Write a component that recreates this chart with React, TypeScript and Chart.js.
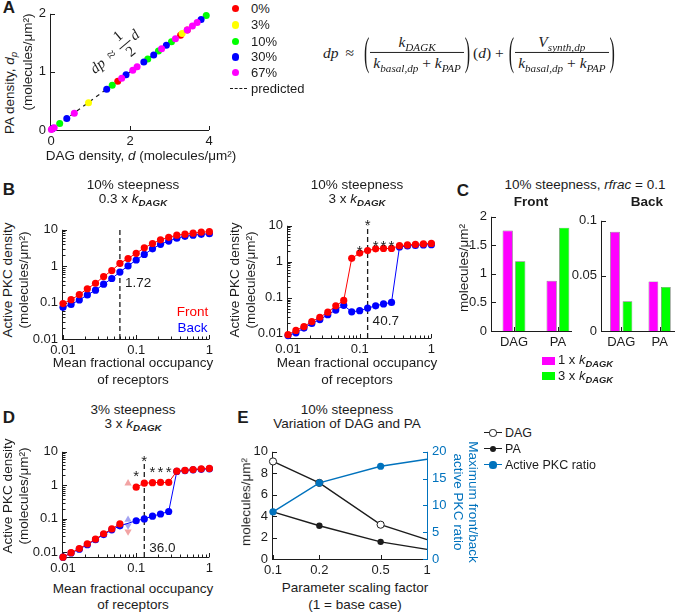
import React, { useEffect, useRef } from 'react';
import { Chart, registerables } from 'chart.js';

Chart.register(...registerables);

const SANS = "'Liberation Sans', Arial, Helvetica, sans-serif";
const SERIF = "'Liberation Serif', 'Times New Roman', serif";
const INK = '#1c1c1c';
const RED = '#ff0000';
const BLUE = '#0000ff';
const MAGENTA = '#ff00ff';
const GREEN = '#00ff00';
const YELLOW = '#ffff00';
const EBLUE = '#0072bd';
const LIGHT_RED = '#f2a3a3';
const LIGHT_BLUE = '#a3a3f2';

// ===== Panel A : PA density vs DAG density =====
const aSeriesNames = ['0%', '3%', '10%', '30%', '67%'];
const aD0 = [0.03, 1.69, 3.28, 3.45];
const aP0 = [0.02, 0.84, 1.63, 1.72];
const aD3 = [0.95, 3.32];
const aP3 = [0.47, 1.66];
const aD10 = [0.22, 1.55, 2.45, 2.72, 3.05, 3.93];
const aP10 = [0.11, 0.77, 1.22, 1.36, 1.52, 1.97];
const aD30 = [0.05, 0.4, 1.41, 1.9, 2.35, 2.6, 2.92, 3.8];
const aP30 = [0.03, 0.2, 0.7, 0.95, 1.17, 1.29, 1.46, 1.9];
const aD67 = [0.01, 0.08, 0.59, 1.79, 2.07, 2.18, 2.8, 3.15, 3.45, 3.58, 3.7];
const aP67 = [0.01, 0.04, 0.29, 0.89, 1.03, 1.09, 1.4, 1.57, 1.72, 1.79, 1.85];
const aPredD = [0, 4];
const aPredP = [0, 2];
const aXTicks = [0, 2, 4];
const aYTicks = [0, 1, 2];

// ===== Panels B / D : active PKC vs mean fractional occupancy =====
const occ = [0.01, 0.0129, 0.0167, 0.0215, 0.0278, 0.0359, 0.0464, 0.0599, 0.0774, 0.1, 0.129, 0.167, 0.215, 0.278, 0.359, 0.464, 0.599, 0.774, 1];
const occTicks = [0.01, 0.1, 1];
const pkcTicks = [0.01, 0.1, 1, 10];

const bLeftFront = [0.094, 0.12, 0.166, 0.24, 0.34, 0.52, 0.76, 1.19, 1.63, 2.26, 3.2, 4.2, 5.3, 6.2, 7.1, 7.6, 8.1, 8.6, 8.9];
const bLeftBack = [0.074, 0.089, 0.118, 0.162, 0.22, 0.32, 0.46, 0.69, 1.02, 1.48, 2.1, 3.0, 4.0, 4.9, 5.9, 6.6, 7.1, 7.5, 7.8];
const bLeftCut = 0.0599;
const bLeftRatio = { x: 0.0599, y: 0.35, text: '1.72' };

const bRightFront = [0.0095, 0.0125, 0.016, 0.022, 0.029, 0.04, 0.06, 0.085, 1.25, 1.75, 2.05, 2.3, 2.35, 2.35, 2.8, 2.95, 3.05, 3.15, 3.25];
const bRightBack = [0.009, 0.0107, 0.0145, 0.0195, 0.025, 0.034, 0.046, 0.062, 0.041, 0.044, 0.052, 0.06, 0.068, 0.075, 2.6, 2.75, 2.85, 2.95, 3.0];
const bRightCut = 0.129;
const bRightRatio = { x: 0.129, y: 0.023, text: '40.7' };
const bRightStarX = [0.1, 0.129, 0.167, 0.215, 0.278];
const bRightStarY = [2.6, 13.5, 3.4, 3.4, 3.4];

const dFront = [0.0072, 0.0098, 0.013, 0.018, 0.025, 0.036, 0.05, 0.071, null, 0.88, 1.16, 1.2, 1.22, 1.22, 2.65, 2.8, 2.95, 3.1, 3.2];
const dBack = [0.0072, 0.0096, 0.0125, 0.017, 0.024, 0.034, 0.047, 0.062, null, 0.088, 0.1, 0.12, 0.14, 0.166, 2.6, 2.75, 2.9, 3.0, 3.1];
const dTriX = 0.0774;
const dTriFrontUp = 1.15;
const dTriBackUp = 0.095;
const dTriBackDown = 0.063;
const dTriFrontDown = 0.042;
const dCut = 0.129;
const dCutTop = 5;
const dRatio = { x: 0.129, y: 0.013, text: '36.0' };
const dStarX = [0.1, 0.129, 0.167, 0.215, 0.278];
const dStarY = [2.4, 7.0, 3.3, 3.3, 3.3];

// ===== Panel C : bars =====
const cCats = ['DAG', 'PA'];
const cFront1x = [1.76, 0.88];
const cFront3x = [1.22, 1.81];
const cBack1x = [0.09, 0.045];
const cBack3x = [0.027, 0.04];
const cFrontTicks = [0, 0.5, 1, 1.5, 2];
const cBackTicks = [0, 0.05, 0.1];

// ===== Panel E =====
const eScale = [0.1, 0.2, 0.5, 1];
const eDAG = [9.1, 7.1, 3.2, 1.8];
const ePA = [4.4, 3.1, 1.6, 0.9];
const eRatio = [8.8, 14.2, 17.3, 18.6];
const eXTicks = [0.1, 0.2, 0.5, 1];
const eYTicks = [0, 2, 4, 6, 8, 10];
const eY2Ticks = [0, 5, 10, 15, 20];

// ---------- helpers ----------
type Geom = { l: number; t: number; r: number; b: number; ml: number; mt: number; mr: number; mb: number };

const pts = (xs: number[], ys: (number | null)[]) => xs.map((x, i) => ({ x, y: ys[i] }));

const tickFont = { family: SANS, size: 13 };

function scaleCfg(o: any) {
  return {
    type: o.type,
    min: o.min,
    max: o.max,
    position: o.position,
    offset: false,
    grid: { display: false, drawTicks: false, drawOnChartArea: false },
    border: { display: false },
    ticks: {
      font: tickFont,
      color: o.color || INK,
      padding: o.pad ?? 4,
      autoSkip: false,
      maxRotation: 0,
      minRotation: 0,
      callback: (v: any) => (o.fmt ? o.fmt(v) : String(v)),
    },
    afterBuildTicks: (s: any) => {
      s.ticks = o.ticks.map((v: number) => ({ value: v }));
    },
    afterFit: (s: any) => {
      if (o.h != null) s.height = o.h;
      if (o.w != null) s.width = o.w;
    },
  };
}

function baseOpts(g: Geom, rightAxis: boolean) {
  return {
    responsive: false,
    maintainAspectRatio: false,
    animation: false,
    events: [],
    layout: { autoPadding: false, padding: { top: g.mt, right: rightAxis ? 0 : g.mr, bottom: 0, left: 0 } },
    plugins: { legend: { display: false }, tooltip: { enabled: false }, title: { display: false } },
  };
}

// MATLAB-like axes: lines along the box edges, ticks pointing inward
function axesPlugin(axes: { id: string; side: string; minor?: boolean; color?: string }[]) {
  return {
    id: 'matlabAxes',
    beforeDatasetsDraw(chart: any) {
      const { ctx, chartArea: a } = chart;
      ctx.save();
      ctx.lineWidth = 1;
      axes.forEach((ax) => {
        const s = chart.scales[ax.id];
        if (!s) return;
        ctx.strokeStyle = ax.color || INK;
        ctx.beginPath();
        if (ax.side === 'bottom') {
          ctx.moveTo(a.left - 1, a.bottom + 0.5);
          ctx.lineTo(a.right, a.bottom + 0.5);
        } else if (ax.side === 'left') {
          ctx.moveTo(a.left - 0.5, a.top);
          ctx.lineTo(a.left - 0.5, a.bottom + 1);
        } else {
          ctx.moveTo(a.right + 0.5, a.top);
          ctx.lineTo(a.right + 0.5, a.bottom + 1);
        }
        ctx.stroke();
        const mark = (v: number, len: number) => {
          const p = Math.round(s.getPixelForValue(v)) + 0.5;
          ctx.beginPath();
          if (ax.side === 'bottom') {
            ctx.moveTo(p, a.bottom);
            ctx.lineTo(p, a.bottom - len);
          } else if (ax.side === 'left') {
            ctx.moveTo(a.left, p);
            ctx.lineTo(a.left + len, p);
          } else {
            ctx.moveTo(a.right, p);
            ctx.lineTo(a.right - len, p);
          }
          ctx.stroke();
        };
        s.ticks.forEach((t: any) => mark(t.value, 4));
        if (ax.minor && s.type === 'logarithmic') {
          const lo = Math.floor(Math.log10(s.min));
          const hi = Math.ceil(Math.log10(s.max));
          for (let d = lo; d < hi; d++) {
            for (let k = 2; k <= 9; k++) {
              const v = k * Math.pow(10, d);
              if (v > s.min && v < s.max) mark(v, 2.5);
            }
          }
        }
      });
      ctx.restore();
    },
  };
}

// text annotations placed in data coordinates
function notesPlugin(notes: { x: number; y: number; text: string }[], stars: { x: number[]; y: number[] } | null) {
  return {
    id: 'notes',
    afterDatasetsDraw(chart: any) {
      const { ctx } = chart;
      const xs = chart.scales.x;
      const ys = chart.scales.y;
      ctx.save();
      ctx.fillStyle = INK;
      notes.forEach((n) => {
        ctx.font = `13.5px ${SANS}`;
        ctx.textAlign = 'left';
        ctx.textBaseline = 'middle';
        ctx.fillText(n.text, xs.getPixelForValue(n.x) + 5, ys.getPixelForValue(n.y));
      });
      if (stars) {
        const size = 15;
        ctx.font = `${size}px ${SANS}`;
        ctx.textAlign = 'center';
        ctx.textBaseline = 'alphabetic';
        stars.x.forEach((x, i) => {
          ctx.fillText('*', xs.getPixelForValue(x), ys.getPixelForValue(stars.y[i]) + 0.58 * size);
        });
      }
      ctx.restore();
    },
  };
}

function ChartBox({ g, make }: { g: Geom; make: () => any }) {
  const ref = useRef<HTMLCanvasElement>(null);
  useEffect(() => {
    const chart = new Chart(ref.current as HTMLCanvasElement, make());
    return () => chart.destroy();
  }, []);
  const w = g.r - g.l + g.ml + g.mr;
  const h = g.b - g.t + g.mt + g.mb;
  return (
    <canvas
      ref={ref}
      width={w}
      height={h}
      style={{ position: 'absolute', left: g.l - g.ml, top: g.t - g.mt, width: w, height: h }}
    />
  );
}

// ---------- geometry ----------
const gA: Geom = { l: 51, t: 7, r: 209, b: 130, ml: 30, mt: 6, mr: 8, mb: 20 };
const gBL: Geom = { l: 63, t: 221, r: 211, b: 339, ml: 36, mt: 4, mr: 6, mb: 20 };
const gBR: Geom = { l: 288, t: 221, r: 433, b: 338, ml: 36, mt: 8, mr: 6, mb: 20 };
const gCL: Geom = { l: 492, t: 208, r: 572, b: 331, ml: 30, mt: 4, mr: 2, mb: 20 };
const gCR: Geom = { l: 602, t: 212, r: 675, b: 331, ml: 34, mt: 4, mr: 3, mb: 20 };
const gD: Geom = { l: 63, t: 443, r: 211, b: 557, ml: 36, mt: 4, mr: 6, mb: 20 };
const gE: Geom = { l: 273, t: 443, r: 427, b: 559, ml: 24, mt: 4, mr: 24, mb: 20 };

// ---------- configs ----------
const dot = (color: string, r = 3.6) => ({
  borderColor: color,
  backgroundColor: color,
  pointBackgroundColor: color,
  pointBorderColor: color,
  pointBorderWidth: 0,
  pointRadius: r,
  clip: false as any,
});

function makeA() {
  const series = [
    [aD67, aP67, MAGENTA],
    [aD30, aP30, BLUE],
    [aD10, aP10, GREEN],
    [aD3, aP3, YELLOW],
    [aD0, aP0, RED],
  ] as any[];
  return {
    type: 'scatter',
    data: {
      datasets: [
        ...series.map(([xs, ys, c]) => ({ data: pts(xs, ys), showLine: false, ...dot(c, 3.5) })),
        {
          data: pts(aPredD, aPredP),
          showLine: true,
          borderColor: INK,
          borderWidth: 1.2,
          borderDash: [4, 4],
          pointRadius: 0,
        },
      ],
    },
    options: {
      ...baseOpts(gA, false),
      scales: {
        x: scaleCfg({ type: 'linear', min: 0, max: 4, ticks: aXTicks, h: gA.mb }),
        y: scaleCfg({ type: 'linear', min: 0, max: 2, ticks: aYTicks, w: gA.ml, pad: 5 }),
      },
    },
    plugins: [axesPlugin([{ id: 'x', side: 'bottom' }, { id: 'y', side: 'left' }])],
  };
}

function pkcConfig(g: Geom, front: (number | null)[], back: (number | null)[], ymin: number, cut: number, cutTop: number, extra: any[], notes: any[], stars: any) {
  return {
    type: 'line',
    data: {
      datasets: [
        { data: pts(occ, front), borderWidth: 1, spanGaps: false, ...dot(RED) },
        { data: pts(occ, back), borderWidth: 1, spanGaps: true, ...dot(BLUE) },
        ...extra,
        {
          data: [
            { x: cut, y: ymin },
            { x: cut, y: cutTop },
          ],
          borderColor: INK,
          borderWidth: 1.3,
          borderDash: [5, 3],
          pointRadius: 0,
          clip: false,
        },
      ],
    },
    options: {
      ...baseOpts(g, false),
      scales: {
        x: scaleCfg({ type: 'logarithmic', min: 0.01, max: 1, ticks: occTicks, h: g.mb }),
        y: scaleCfg({ type: 'logarithmic', min: ymin, max: 10, ticks: pkcTicks, w: g.ml, pad: 5 }),
      },
    },
    plugins: [
      axesPlugin([
        { id: 'x', side: 'bottom', minor: true },
        { id: 'y', side: 'left', minor: true },
      ]),
      notesPlugin(notes, stars),
    ],
  };
}

const makeBL = () => pkcConfig(gBL, bLeftFront, bLeftBack, 0.01, bLeftCut, 10, [], [bLeftRatio], null);
const makeBR = () =>
  pkcConfig(gBR, bRightFront, bRightBack, 0.0077, bRightCut, 10, [], [bRightRatio], { x: bRightStarX, y: bRightStarY });

const tri = (y: number, color: string, rot: number) => ({
  data: [{ x: dTriX, y }],
  showLine: false,
  pointStyle: 'triangle',
  pointRotation: rot,
  pointRadius: 4.2,
  pointBackgroundColor: color,
  pointBorderColor: color,
  pointBorderWidth: 0,
  borderColor: color,
  clip: false,
});
const makeD = () =>
  pkcConfig(
    gD,
    dFront,
    dBack,
    0.0073,
    dCut,
    dCutTop,
    [tri(dTriFrontUp, LIGHT_RED, 0), tri(dTriBackUp, LIGHT_BLUE, 0), tri(dTriBackDown, LIGHT_BLUE, 180), tri(dTriFrontDown, LIGHT_RED, 180)],
    [dRatio],
    { x: dStarX, y: dStarY }
  );

function barConfig(g: Geom, v1: number[], v3: number[], ymax: number, yticks: number[], xmax: number, cp: number, bp: number) {
  const common = { categoryPercentage: cp, barPercentage: bp, borderWidth: 0.7, borderColor: 'rgba(0,0,0,0.55)' };
  return {
    type: 'bar',
    data: {
      datasets: [
        { data: v1.map((y, i) => ({ x: i + 1, y })), backgroundColor: MAGENTA, ...common },
        { data: v3.map((y, i) => ({ x: i + 1, y })), backgroundColor: GREEN, ...common },
      ],
    },
    options: {
      ...baseOpts(g, false),
      scales: {
        x: scaleCfg({ type: 'linear', min: 0.5, max: xmax, ticks: [1, 2], h: g.mb, fmt: (v: number) => cCats[v - 1] || '' }),
        y: scaleCfg({ type: 'linear', min: 0, max: ymax, ticks: yticks, w: g.ml, pad: 5 }),
      },
    },
    plugins: [axesPlugin([{ id: 'x', side: 'bottom' }, { id: 'y', side: 'left' }])],
  };
}
const makeCL = () => barConfig(gCL, cFront1x, cFront3x, 2, cFrontTicks, 2.32, 0.57, 0.82);
const makeCR = () => barConfig(gCR, cBack1x, cBack3x, 0.1, cBackTicks, 2.4, 0.65, 0.78);

function makeE() {
  return {
    type: 'line',
    data: {
      datasets: [
        {
          data: pts(eScale, eRatio),
          yAxisID: 'y2',
          borderColor: EBLUE,
          borderWidth: 1.4,
          pointRadius: [3.6, 3.6, 3.6, 0],
          pointBackgroundColor: EBLUE,
          pointBorderColor: EBLUE,
          pointBorderWidth: 0,
          clip: false,
        },
        {
          data: pts(eScale, eDAG),
          yAxisID: 'y',
          borderColor: INK,
          borderWidth: 1.4,
          pointRadius: [3.6, 3.6, 3.6, 0],
          pointBackgroundColor: '#ffffff',
          pointBorderColor: INK,
          pointBorderWidth: 1,
          clip: false,
        },
        {
          data: pts(eScale, ePA),
          yAxisID: 'y',
          borderColor: INK,
          borderWidth: 1.4,
          pointRadius: [3.2, 3.2, 3.2, 0],
          pointBackgroundColor: INK,
          pointBorderColor: INK,
          pointBorderWidth: 0,
          clip: false,
        },
      ],
    },
    options: {
      ...baseOpts(gE, true),
      scales: {
        x: scaleCfg({ type: 'logarithmic', min: 0.1, max: 1, ticks: eXTicks, h: gE.mb }),
        y: scaleCfg({ type: 'linear', min: 0, max: 10, ticks: eYTicks, w: gE.ml, pad: 5, position: 'left' }),
        y2: scaleCfg({ type: 'linear', min: 0, max: 20, ticks: eY2Ticks, w: gE.mr, pad: 5, position: 'right', color: EBLUE }),
      },
    },
    plugins: [
      axesPlugin([
        { id: 'x', side: 'bottom' },
        { id: 'y', side: 'left' },
        { id: 'y2', side: 'right', color: EBLUE },
      ]),
    ],
  };
}

// ---------- text helpers ----------
function Txt({ x, y, children, size = 13.5, rot = 0, color = INK, bold = false, align = 'center', family = SANS }: any) {
  const tx = align === 'left' ? '0%' : align === 'right' ? '-100%' : '-50%';
  return (
    <div
      style={{
        position: 'absolute',
        left: x,
        top: y,
        transform: `translate(${tx},-50%) rotate(${rot}deg)`,
        whiteSpace: 'nowrap',
        fontSize: size,
        fontFamily: family,
        color,
        fontWeight: bold ? 'bold' : 'normal',
        lineHeight: 1.15,
      }}
    >
      {children}
    </div>
  );
}

function Sub({ children, bold = false, italic = true }: any) {
  return (
    <span
      style={{
        fontSize: '0.72em',
        fontStyle: italic ? 'italic' : 'normal',
        fontWeight: bold ? 'bold' : 'normal',
        position: 'relative',
        top: '0.32em',
      }}
    >
      {children}
    </span>
  );
}

const KDAGK = () => (
  <>
    <i>k</i>
    <Sub bold>DAGK</Sub>
  </>
);

const UM2 = () => <>molecules/μm²</>;

function Frac({ num, den }: any) {
  return (
    <span style={{ display: 'inline-flex', flexDirection: 'column', alignItems: 'stretch', textAlign: 'center' }}>
      <span style={{ padding: '0 3px 2px' }}>{num}</span>
      <span style={{ borderTop: '1px solid #222', padding: '1px 3px 0' }}>{den}</span>
    </span>
  );
}

const Big = ({ c }: any) => (
  <span style={{ display: 'inline-block', transform: 'scaleY(2.5)', fontSize: 16, margin: '0 1px' }}>{c}</span>
);

function Equation() {
  return (
    <div
      style={{
        position: 'absolute',
        left: 323,
        top: 52,
        transform: 'translateY(-50%)',
        display: 'flex',
        alignItems: 'center',
        fontFamily: SERIF,
        fontSize: 15.5,
        color: INK,
        whiteSpace: 'nowrap',
        lineHeight: 1.1,
      }}
    >
      <i>dp</i>
      <span style={{ margin: '0 9px 0 7px' }}>≈</span>
      <Big c="(" />
      <Frac
        num={
          <>
            <i>k</i>
            <Sub>DAGK</Sub>
          </>
        }
        den={
          <>
            <i>k</i>
            <Sub>basal,dp</Sub> + <i>k</i>
            <Sub>PAP</Sub>
          </>
        }
      />
      <Big c=")" />
      <span style={{ margin: '0 4px 0 2px' }}>
        (<i>d</i>) +
      </span>
      <Big c="(" />
      <Frac
        num={
          <>
            <i>V</i>
            <Sub>synth,dp</Sub>
          </>
        }
        den={
          <>
            <i>k</i>
            <Sub>basal,dp</Sub> + <i>k</i>
            <Sub>PAP</Sub>
          </>
        }
      />
      <Big c=")" />
    </div>
  );
}

function Dot({ x, y, color, r = 3.6, hollow = false, border }: any) {
  return (
    <div
      style={{
        position: 'absolute',
        left: x - r,
        top: y - r,
        width: 2 * r,
        height: 2 * r,
        borderRadius: '50%',
        boxSizing: 'border-box',
        background: hollow ? '#fff' : color,
        border: hollow ? `1px solid ${border || color}` : 'none',
      }}
    />
  );
}

function HLine({ x1, x2, y, color, dash = false, w = 1.4 }: any) {
  return (
    <div
      style={{
        position: 'absolute',
        left: x1,
        top: y - w / 2,
        width: x2 - x1,
        height: 0,
        borderTop: `${w}px ${dash ? 'dashed' : 'solid'} ${color}`,
      }}
    />
  );
}

const aLegendColors = [RED, YELLOW, GREEN, BLUE, MAGENTA];
const aLegendY = [8.5, 25, 41.5, 57, 72.5];

export default function App() {
  return (
    <div
      style={{
        position: 'absolute',
        left: 0,
        top: 0,
        width: 679,
        height: 613,
        background: '#fff',
        overflow: 'hidden',
        fontFamily: SANS,
        color: INK,
      }}
    >
      <ChartBox g={gA} make={makeA} />
      <ChartBox g={gBL} make={makeBL} />
      <ChartBox g={gBR} make={makeBR} />
      <ChartBox g={gCL} make={makeCL} />
      <ChartBox g={gCR} make={makeCR} />
      <ChartBox g={gD} make={makeD} />
      <ChartBox g={gE} make={makeE} />

      {/* Panel letters */}
      <Txt x={9} y={8} size={17} bold>A</Txt>
      <Txt x={9} y={190} size={17} bold>B</Txt>
      <Txt x={463} y={191} size={17} bold>C</Txt>
      <Txt x={9} y={418} size={17} bold>D</Txt>
      <Txt x={243} y={418} size={17} bold>E</Txt>

      {/* Panel A */}
      <Txt x={141} y={156}>
        DAG density, <i>d</i> (<UM2 />)
      </Txt>
      <Txt x={10} y={93} rot={-90}>
        PA density, <i>d</i>
        <Sub>p</Sub>
      </Txt>
      <Txt x={28} y={62} rot={-90}>
        (<UM2 />)
      </Txt>
      <div
        style={{
          position: 'absolute',
          left: 115,
          top: 52,
          transform: 'translate(-50%,-50%) rotate(-40deg)',
          fontFamily: SERIF,
          fontSize: 15,
          display: 'flex',
          alignItems: 'center',
          whiteSpace: 'nowrap',
          color: INK,
          lineHeight: 1.05,
        }}
      >
        <i>dp</i>
        <span style={{ margin: '0 6px' }}>≈</span>
        <Frac num={<>1</>} den={<>2</>} />
        <i style={{ marginLeft: 3 }}>d</i>
      </div>
      {aSeriesNames.map((n, i) => (
        <React.Fragment key={n}>
          <Dot x={235.5} y={aLegendY[i]} color={aLegendColors[i]} r={3.6} />
          <Txt x={251} y={aLegendY[i]} size={13} align="left">
            {n}
          </Txt>
        </React.Fragment>
      ))}
      <HLine x1={230} x2={247} y={88.5} color={INK} dash w={1.3} />
      <Txt x={251} y={88.5} size={13} align="left">
        predicted
      </Txt>
      <Equation />

      {/* Panel B */}
      <Txt x={133} y={185}>10% steepness</Txt>
      <Txt x={133} y={199}>
        0.3 x <KDAGK />
      </Txt>
      <Txt x={357} y={185}>10% steepness</Txt>
      <Txt x={357} y={199}>
        3 x <KDAGK />
      </Txt>
      <Txt x={192.5} y={311.5} color={RED}>Front</Txt>
      <Txt x={192.5} y={327.5} color={BLUE}>Back</Txt>
      <Txt x={8} y={280} rot={-90}>Active PKC density</Txt>
      <Txt x={24} y={280} rot={-90}>
        (<UM2 />)
      </Txt>
      <Txt x={235} y={280} rot={-90}>Active PKC density</Txt>
      <Txt x={251} y={280} rot={-90}>
        (<UM2 />)
      </Txt>
      <Txt x={133} y={363}>Mean fractional occupancy</Txt>
      <Txt x={133} y={380}>of receptors</Txt>
      <Txt x={357} y={363}>Mean fractional occupancy</Txt>
      <Txt x={357} y={380}>of receptors</Txt>

      {/* Panel C */}
      <Txt x={585} y={185}>
        10% steepness, <i>rfrac</i> = 0.1
      </Txt>
      <Txt x={531} y={202} size={13.5} bold>Front</Txt>
      <Txt x={647} y={202} size={13.5} bold>Back</Txt>
      <Txt x={464} y={268} rot={-90}>
        <UM2 />
      </Txt>
      <div style={{ position: 'absolute', left: 542, top: 357, width: 13, height: 8, background: MAGENTA }} />
      <Txt x={558} y={360} size={13} align="left">
        1 x <KDAGK />
      </Txt>
      <div style={{ position: 'absolute', left: 542, top: 372, width: 13, height: 8, background: GREEN }} />
      <Txt x={558} y={376} size={13} align="left">
        3 x <KDAGK />
      </Txt>

      {/* Panel D */}
      <Txt x={133} y={410}>3% steepness</Txt>
      <Txt x={133} y={424}>
        3 x <KDAGK />
      </Txt>
      <Txt x={8} y={496} rot={-90}>Active PKC density</Txt>
      <Txt x={24} y={496} rot={-90}>
        (<UM2 />)
      </Txt>
      <Txt x={133} y={589}>Mean fractional occupancy</Txt>
      <Txt x={133} y={605}>of receptors</Txt>

      {/* Panel E */}
      <Txt x={347} y={410}>10% steepness</Txt>
      <Txt x={347} y={424}>Variation of DAG and PA</Txt>
      <Txt x={246} y={502} rot={-90}>
        <UM2 />
      </Txt>
      <Txt x={473} y={502} rot={90} color={EBLUE}>Maximum front/back</Txt>
      <Txt x={458} y={502} rot={90} color={EBLUE}>active PKC ratio</Txt>
      <Txt x={355} y={588}>Parameter scaling factor</Txt>
      <Txt x={355} y={605}>(1 = base case)</Txt>

      <HLine x1={484} x2={502} y={433} color={INK} />
      <Dot x={493} y={433} r={3.6} hollow border={INK} />
      <Txt x={505} y={433} size={12.5} align="left">DAG</Txt>
      <HLine x1={484} x2={502} y={449} color={INK} />
      <Dot x={493} y={449} r={3.2} color={INK} />
      <Txt x={505} y={449} size={12.5} align="left">PA</Txt>
      <HLine x1={484} x2={502} y={465} color={EBLUE} />
      <Dot x={493} y={465} r={3.6} color={EBLUE} />
      <Txt x={505} y={465} size={12.5} align="left">Active PKC ratio</Txt>
    </div>
  );
}
